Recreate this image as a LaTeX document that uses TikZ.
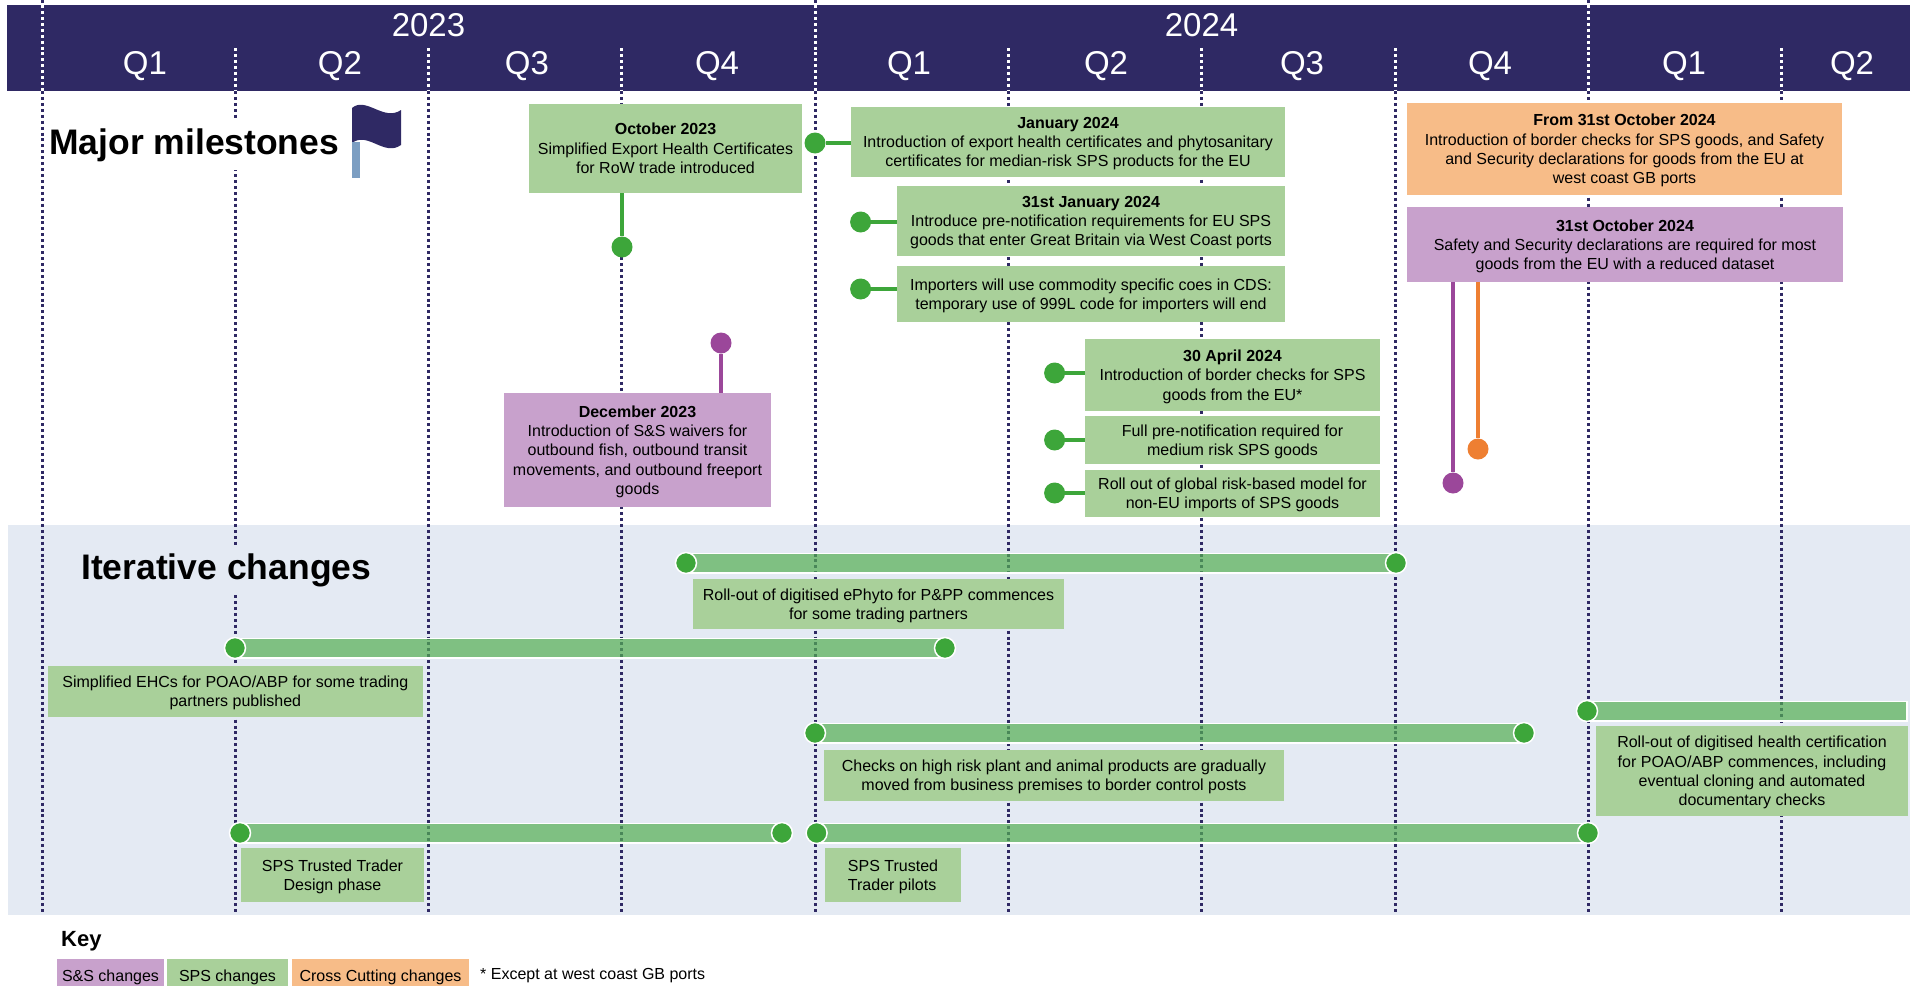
\documentclass[tikz,border=0pt]{standalone}
\usepackage{fontspec}
\setmainfont{Liberation Sans}
\definecolor{navy}{HTML}{2F2964}
\definecolor{bgblue}{HTML}{E4EAF3}
\definecolor{boxgreen}{HTML}{A9D09A}
\definecolor{boxpurple}{HTML}{C8A1CC}
\definecolor{boxorange}{HTML}{F7BC88}
\definecolor{dotgreen}{HTML}{3DA63A}
\definecolor{dotpurple}{HTML}{9B479A}
\definecolor{dotorange}{HTML}{EE7F32}
\definecolor{barfill}{RGB}{85,175,83}
\definecolor{polecol}{HTML}{7C9EC2}
\newcommand\bodyfont{\fontsize{16}{19.3}\selectfont}
\newcommand\tlbox[7]{\node[#1,minimum width={(#5-#3)*1pt},minimum height={(#6-#4)*1pt}] (#2) at ({(#3+#5)/2},{(#4+#6)/2}) {#7};}
\tikzset{
  divline/.style={navy, line width=3pt, dash pattern=on 3pt off 2.93pt},
  tlb/.style={inner sep=0pt, align=center, font=\bodyfont, text depth=0pt},
  gbox/.style={tlb, fill=boxgreen},
  pbox/.style={tlb, fill=boxpurple},
  obox/.style={tlb, fill=boxorange},
  mdot/.style={circle, inner sep=0pt, minimum size=21pt, fill=#1},
  gdot/.style={circle, inner sep=0pt, minimum size=21pt, fill=dotgreen, draw=white, line width=1.5pt},
  conn/.style={line width=4pt, draw=#1},
  tlbar/.style={draw=white, line width=1.5pt, fill=barfill, fill opacity=0.7},
  yearlbl/.style={text=white, font=\fontsize{33}{36}\selectfont},
  sectitle/.style={font=\bfseries\fontsize{35.5}{40}\selectfont, anchor=west, inner xsep=2pt, inner ysep=8pt},
}
\begin{document}
\begin{tikzpicture}[x=1pt,y=-1pt]
\useasboundingbox (0,0) rectangle (1910,985);
\clip (0,0) rectangle (1910,985);
% backgrounds
\fill[navy] (7,5) rectangle (1910,91);
\fill[bgblue] (8,525) rectangle (1910,915);
% dividers
\foreach \k in {0,...,9}{
  \pgfmathsetmacro\xx{42+193.3*\k}
  \draw[divline] (\xx,91) -- (\xx,915);
}
\foreach \k in {0,4,8}{
  \pgfmathsetmacro\xx{42+193.3*\k}
  \draw[divline] (\xx,0) -- (\xx,5);
  \draw[divline,white] (\xx,5) -- (\xx,91);
}
\foreach \k in {1,2,3,5,6,7,9}{
  \pgfmathsetmacro\xx{42+193.3*\k}
  \draw[divline,white] (\xx,48) -- (\xx,91);
}
% header labels
\node[yearlbl] (y2023) at (428.5,25) {2023};
\node[yearlbl] (y2024) at (1201.5,25) {2024};
\foreach \qx/\ql [count=\i] in {145/Q1,340/Q2,527/Q3,717/Q4,909/Q1,1106/Q2,1302/Q3,1490/Q4,1684/Q1,1852/Q2}{
  \node[yearlbl] (q\i) at (\qx,65.7) {\ql};
}
% section titles
\node[sectitle, fill=white] (mm) at (47,145) {Major milestones};
\node[sectitle, fill=bgblue] (ic) at (79,570) {Iterative changes};
% flag
\fill[navy] (352,108) .. controls (366,96) and (384,122) .. (401,110) -- (401,145) .. controls (384,157) and (368,131) .. (352,143) -- cycle;
\fill[polecol] (352,142) rectangle (360,178);

% ---------------- iterative changes ----------------
\coordinate (b1s) at (686,563);   \coordinate (b1e) at (1396,563);
\coordinate (b2s) at (235,648);   \coordinate (b2e) at (945,648);
\coordinate (b3s) at (815,733);   \coordinate (b3e) at (1524,733);
\coordinate (b4s) at (1587,711);  \coordinate (b4e) at (1907,711);
\coordinate (b5s) at (240,833);   \coordinate (b5e) at (782,833);
\coordinate (b6s) at (816.6,833); \coordinate (b6e) at (1588,833);
\foreach \b in {1,...,6}{
  \draw[tlbar] ([yshift=-9.75pt]b\b s) rectangle ([yshift=9.75pt]b\b e);
}
\foreach \b in {1,2,3,5,6}{
  \node[gdot] (b\b sdot) at (b\b s) {};
  \node[gdot] (b\b edot) at (b\b e) {};
}
\node[gdot] (b4sdot) at (b4s) {};

\tlbox{gbox}{i1}{693}{579}{1064}{629}{Roll-out of digitised ePhyto for P\&PP commences\\for some trading partners}
\tlbox{gbox}{i2}{47.7}{666}{423}{716.7}{Simplified EHCs for POAO/ABP for some trading\\partners published}
\tlbox{gbox}{i3}{824}{750}{1284}{800.7}{Checks on high risk plant and animal products are gradually\\moved from business premises to border control posts}
\tlbox{gbox}{i4}{1596}{726}{1908}{815.7}{Roll-out of digitised health certification\\for POAO/ABP commences, including\\eventual cloning and automated\\documentary checks}
\tlbox{gbox}{i5}{241}{848}{424}{901.7}{SPS Trusted Trader\\Design phase}
\tlbox{gbox,align=left}{i6}{825}{848}{961}{901.7}{SPS Trusted\\Trader pilots}

% ---------------- milestones ----------------
\tlbox{gbox}{m1}{529}{104}{802}{193}{\textbf{October 2023}\\Simplified Export Health Certificates\\for RoW trade introduced}
\node[mdot=dotgreen] (m1dot) at (622,247) {};
\draw[conn=dotgreen] (m1dot |- m1.south) -- (m1dot);

\tlbox{gbox}{m2}{851}{107}{1285}{177}{\textbf{January 2024}\\Introduction of export health certificates and phytosanitary\\certificates for median-risk SPS products for the EU}
\node[mdot=dotgreen] (m2dot) at (815,143) {};
\draw[conn=dotgreen] (m2dot) -- (m2dot -| m2.west);

\tlbox{gbox}{m3}{897}{186}{1285}{256}{\textbf{31st January 2024}\\Introduce pre-notification requirements for EU SPS\\goods that enter Great Britain via West Coast ports}
\node[mdot=dotgreen] (m3dot) at (860.6,222) {};
\draw[conn=dotgreen] (m3dot) -- (m3dot -| m3.west);

\tlbox{gbox}{m4}{897}{266}{1285}{322}{Importers will use commodity specific coes in CDS:\\temporary use of 999L code for importers will end}
\node[mdot=dotgreen] (m4dot) at (860.6,289) {};
\draw[conn=dotgreen] (m4dot) -- (m4dot -| m4.west);

\tlbox{gbox}{m5}{1085}{339}{1380}{411}{\textbf{30 April 2024}\\Introduction of border checks for SPS\\goods from the EU*}
\node[mdot=dotgreen] (m5dot) at (1054.6,373) {};
\draw[conn=dotgreen] (m5dot) -- (m5dot -| m5.west);

\tlbox{gbox}{m6}{1085}{416}{1380}{464}{Full pre-notification required for\\medium risk SPS goods}
\node[mdot=dotgreen] (m6dot) at (1054.6,440) {};
\draw[conn=dotgreen] (m6dot) -- (m6dot -| m6.west);

\tlbox{gbox}{m7}{1085}{470}{1380}{517}{Roll out of global risk-based model for\\non-EU imports of SPS goods}
\node[mdot=dotgreen] (m7dot) at (1054.6,493) {};
\draw[conn=dotgreen] (m7dot) -- (m7dot -| m7.west);

\tlbox{pbox}{m8}{504}{393}{771}{507}{\textbf{December 2023}\\Introduction of S\&S waivers for\\outbound fish, outbound transit\\movements, and outbound freeport\\goods}
\node[mdot=dotpurple] (m8dot) at (721,343) {};
\draw[conn=dotpurple] (m8dot) -- (m8dot |- m8.north);

\tlbox{obox}{m9}{1407}{103}{1842}{195}{\textbf{From 31st October 2024}\\Introduction of border checks for SPS goods, and Safety\\and Security declarations for goods from the EU at\\west coast GB ports}

\tlbox{pbox}{m10}{1407}{207}{1843}{282}{\textbf{31st October 2024}\\Safety and Security declarations are required for most\\goods from the EU with a reduced dataset}
\node[mdot=dotpurple] (m10dot) at (1453,483) {};
\draw[conn=dotpurple] (m10dot |- m10.south) -- (m10dot);
\node[mdot=dotorange] (m9dot) at (1478,449) {};
\draw[conn=dotorange] (m9dot |- m10.south) -- (m9dot);

% ---------------- key ----------------
\node[font=\bfseries\fontsize{22}{26}\selectfont, anchor=west, inner sep=0pt] (key) at (61,941.7) {Key};
\tlbox{pbox}{k1}{57}{959}{164}{993}{S\&S changes}
\tlbox{gbox}{k2}{167}{959}{288}{993}{SPS changes}
\tlbox{obox}{k3}{292}{959}{469}{993}{Cross Cutting changes}
\node[font=\bodyfont, anchor=west, inner sep=0pt] (note) at (480,976) {* Except at west coast GB ports};
\end{tikzpicture}
\end{document}
